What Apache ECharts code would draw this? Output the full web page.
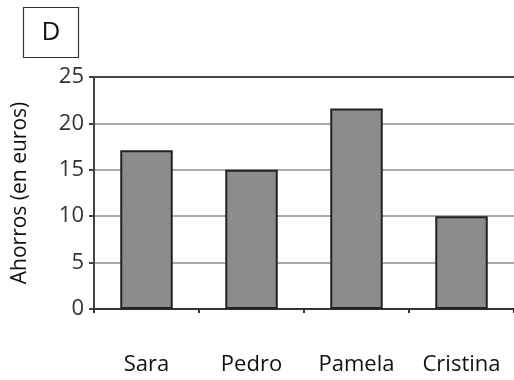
<!DOCTYPE html>
<html>
<head>
<meta charset="utf-8">
<script src="https://cdn.jsdelivr.net/npm/echarts@6/dist/echarts.min.js"></script>
<style>
  html, body { margin: 0; padding: 0; background: #fff; }
  #chart { width: 514px; height: 380px; }
</style>
</head>
<body>
<div id="chart"></div>
<script>
// datos del gráfico
const categories = ['Sara', 'Pedro', 'Pamela', 'Cristina'];
const ahorros = [17.1, 15, 21.6, 10];
const yName = 'Ahorros (en euros)';
const panelLabel = 'D';

const chart = echarts.init(document.getElementById('chart'));
const font = '"Open Sans", "DejaVu Sans", sans-serif';

const option = {
  animation: false,
  backgroundColor: '#fff',
  grid: { left: 94, right: 0, top: 77, bottom: 71 },
  graphic: [
    {
      type: 'rect',
      shape: { x: 23.5, y: 7.5, width: 55, height: 50 },
      style: { fill: '#fff', stroke: '#333', lineWidth: 1.2 }
    },
    {
      type: 'text',
      x: 51, y: 33,
      style: {
        text: panelLabel, font: '26px ' + font, fill: '#111',
        align: 'center', verticalAlign: 'middle'
      }
    }
  ],
  xAxis: {
    type: 'category',
    data: categories,
    axisLine: { lineStyle: { color: '#333', width: 2 } },
    axisTick: { show: true, interval: 0, length: 4, inside: false, lineStyle: { color: '#333', width: 2 } },
    axisLabel: { interval: 0, hideOverlap: false, margin: 45, fontSize: 22, fontFamily: font, color: '#111' }
  },
  yAxis: {
    type: 'value',
    min: 0, max: 25, interval: 5,
    name: yName,
    nameLocation: 'middle',
    nameGap: 63,
    nameTextStyle: { fontSize: 21, fontFamily: font, color: '#111' },
    axisLine: { show: true, lineStyle: { color: '#444', width: 2 } },
    axisTick: { show: true, length: 5, lineStyle: { color: '#444', width: 2 } },
    axisLabel: { margin: 10, fontSize: 22, fontFamily: font, color: '#333' },
    splitLine: {
      show: true,
      lineStyle: { color: ['#444', '#aaa', '#aaa', '#aaa', '#aaa', '#444'], width: 2 }
    }
  },
  series: [
    {
      type: 'bar',
      data: ahorros,
      barWidth: '50%',
      itemStyle: { color: '#8c8c8c', borderColor: '#222', borderWidth: 2 }
    }
  ]
};

chart.setOption(option);
</script>
</body>
</html>
